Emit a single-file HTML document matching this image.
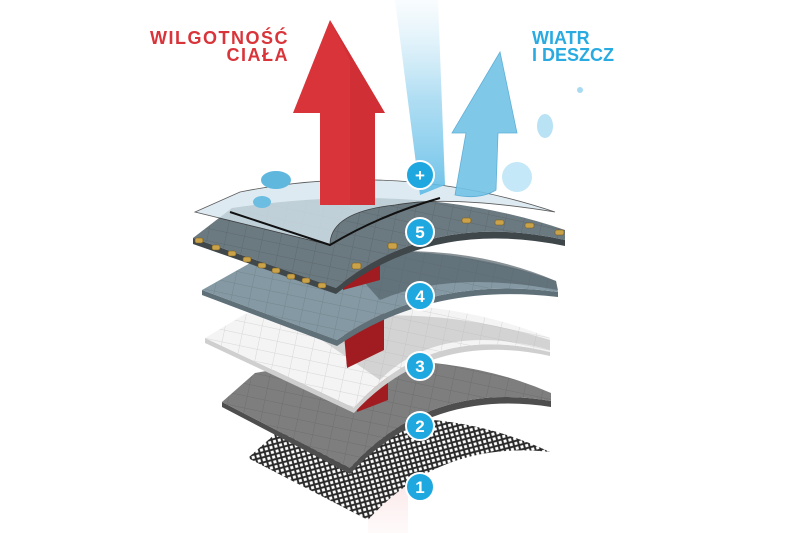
<!DOCTYPE html>
<html><head><meta charset="utf-8"><style>
html,body{margin:0;padding:0;background:#fff;}
svg{display:block;}
text{font-family:"Liberation Sans",sans-serif;font-weight:bold;}
</style></head><body>
<svg width="800" height="533" viewBox="0 0 800 533" xmlns="http://www.w3.org/2000/svg">
<defs>
<linearGradient id="blueband" x1="0" y1="0" x2="0" y2="1">
<stop offset="0" stop-color="#bfe3f3" stop-opacity="0.1"/>
<stop offset="0.5" stop-color="#8fd0ee" stop-opacity="0.7"/>
<stop offset="1" stop-color="#5dbbe6" stop-opacity="0.9"/>
</linearGradient>
<linearGradient id="redfade" x1="0" y1="0" x2="0" y2="1">
<stop offset="0" stop-color="#f6c9cb" stop-opacity="0.6"/>
<stop offset="1" stop-color="#fbe6e7" stop-opacity="0.2"/>
</linearGradient>
<pattern id="mesh" width="7" height="7" patternUnits="userSpaceOnUse" patternTransform="rotate(30)">
<rect width="7" height="7" fill="#fff"/>
<path d="M0 0L7 7M7 0L0 7" stroke="#2a2a2a" stroke-width="2"/>
</pattern>
<pattern id="grid" width="18" height="12" patternUnits="userSpaceOnUse" patternTransform="rotate(12)">
<path d="M0 0H18M0 0V12" stroke="#000" stroke-opacity="0.12" stroke-width="1" fill="none"/>
</pattern>
</defs>

<rect x="368" y="470" width="40" height="63" fill="url(#redfade)"/>

<!-- Layer 1 mesh -->
<path d="M248 458 L275 434 Q430 395 550 452 Q440 440 368 520 Z" fill="url(#mesh)"/>

<!-- Layer 2 -->
<path d="M222 402 L350 468 Q430 380 551 401 L551 407 Q430 388 350 474 L222 407Z" fill="#4e4e4e"/>
<path d="M222 402 L255 373 Q430 340 551 393 L551 401 Q430 380 350 468 Z" fill="#7e7e7e"/>
<path d="M222 402 L255 373 Q430 340 551 393 L551 401 Q430 380 350 468 Z" fill="url(#grid)"/>

<!-- red block under layer 3 -->
<path d="M352 360 L388 352 L388 400 L357 412 Z" fill="#a11c20"/>

<!-- Layer 3 white -->
<path d="M205 338 L354 408 Q430 322 550 352 L550 356 Q430 330 354 413 L205 343Z" fill="#cfcfcf"/>
<path d="M205 338 L245 314 Q420 285 550 338 L550 352 Q430 322 354 408 Z" fill="#f4f4f4"/>
<path d="M205 338 L245 314 Q420 285 550 338 L550 352 Q430 322 354 408 Z" fill="url(#grid)"/>
<path d="M300 325 Q420 300 550 340 L550 350 Q440 320 380 380 Z" fill="#b8b8b8" opacity="0.55"/>

<!-- red block under layer 4 -->
<path d="M340 290 L384 285 L384 350 L347 368 Z" fill="#a11c20"/>

<!-- Layer 4 -->
<path d="M202 290 L337 340 Q430 275 558 292 L558 297 Q430 282 337 346 L202 295Z" fill="#5f7079"/>
<path d="M202 290 L252 262 Q420 232 556 281 L558 292 Q430 275 337 340 Z" fill="#8499a3"/>
<path d="M202 290 L252 262 Q420 232 556 281 L558 292 Q430 275 337 340 Z" fill="url(#grid)"/>
<path d="M340 255 Q460 240 556 281 L558 290 Q450 270 380 300 Z" fill="#56636a" opacity="0.7"/>

<!-- Red shaft -->
<rect x="320" y="110" width="55" height="170" fill="#d8343a" opacity="0.95"/>
<path d="M340 250 L380 250 L380 280 L343 290 Z" fill="#a11c20"/>

<!-- Layer 5 -->
<path d="M193 238 L336 288 Q430 210 565 240 L565 246 Q430 218 336 294 L193 244Z" fill="#3f474b"/>
<path d="M193 238 L232 208 Q420 180 565 230 L565 240 Q430 210 336 288 Z" fill="#6b7980"/>
<path d="M193 238 L232 208 Q420 180 565 230 L565 240 Q430 210 336 288 Z" fill="url(#grid)"/>
<g fill="#c9a24a" stroke="#7a5a1a" stroke-width="0.6">
<rect x="195" y="238" width="8" height="5" rx="2"/>
<rect x="212" y="245" width="8" height="5" rx="2"/>
<rect x="228" y="251" width="8" height="5" rx="2"/>
<rect x="243" y="257" width="8" height="5" rx="2"/>
<rect x="258" y="263" width="8" height="5" rx="2"/>
<rect x="272" y="268" width="8" height="5" rx="2"/>
<rect x="287" y="274" width="8" height="5" rx="2"/>
<rect x="302" y="278" width="8" height="5" rx="2"/>
<rect x="318" y="283" width="8" height="5" rx="2"/>
<rect x="352" y="263" width="9" height="6" rx="2"/>
<rect x="388" y="243" width="9" height="6" rx="2"/>
<rect x="462" y="218" width="9" height="5" rx="2"/>
<rect x="495" y="220" width="9" height="5" rx="2"/>
<rect x="525" y="223" width="9" height="5" rx="2"/>
<rect x="555" y="230" width="9" height="5" rx="2"/>
</g>

<!-- top clear membrane -->
<path d="M195 212 L240 192 Q400 160 555 212 Q450 195 395 205 Q330 212 330 245 Z" fill="#d6e6ee" opacity="0.8" stroke="#333" stroke-width="0.8"/>
<path d="M230 212 L330 245 Q380 215 440 198" fill="none" stroke="#111" stroke-width="2"/>

<!-- red arrow -->
<path d="M330 20 L385 113 L375 113 L375 205 L320 205 L320 113 L293 113 Z" fill="#d8343a"/>
<path d="M330 20 L385 113 L375 113 L375 205 L350 205 L350 60 Z" fill="#c62a30" opacity="0.5"/>

<!-- blue band -->
<path d="M395 0 L438 0 L445 185 L420 195 Z" fill="url(#blueband)"/>
<!-- blue arrow -->
<path d="M500 52 L517 133 L498 133 L496 190 Q480 200 455 195 L466 133 L452 133 Z" fill="#72c3e6" opacity="0.9" stroke="#4fa8d4" stroke-width="0.8"/>

<!-- drops -->
<circle cx="580" cy="90" r="3" fill="#a8dbf2"/>
<ellipse cx="545" cy="126" rx="8" ry="12" fill="#b9e2f4"/>
<circle cx="517" cy="177" r="15" fill="#c4e8f7"/>
<ellipse cx="276" cy="180" rx="15" ry="9" fill="#5fb7de"/>
<ellipse cx="262" cy="202" rx="9" ry="6" fill="#6cbde2"/>

<!-- number badges -->
<g font-size="17" text-anchor="middle" fill="#fff">
<circle cx="420" cy="175" r="14" fill="#1ea8df" stroke="#fff" stroke-width="2"/>
<text x="420" y="181">+</text>
<circle cx="420" cy="232" r="14" fill="#1ea8df" stroke="#fff" stroke-width="2"/>
<text x="420" y="238">5</text>
<circle cx="420" cy="296" r="14" fill="#1ea8df" stroke="#fff" stroke-width="2"/>
<text x="420" y="302">4</text>
<circle cx="420" cy="366" r="14" fill="#1ea8df" stroke="#fff" stroke-width="2"/>
<text x="420" y="372">3</text>
<circle cx="420" cy="426" r="14" fill="#1ea8df" stroke="#fff" stroke-width="2"/>
<text x="420" y="432">2</text>
<circle cx="420" cy="487" r="14" fill="#1ea8df" stroke="#fff" stroke-width="2"/>
<text x="420" y="493">1</text>
</g>

<!-- labels -->
<g font-size="18" fill="#d8343a" text-anchor="end" letter-spacing="1.5">
<text x="289" y="44">WILGOTNOŚĆ</text>
<text x="289" y="61">CIAŁA</text>
</g>
<g font-size="18" fill="#29abe2">
<text x="532" y="44">WIATR</text>
<text x="532" y="61">I DESZCZ</text>
</g>
</svg>
</body></html>
